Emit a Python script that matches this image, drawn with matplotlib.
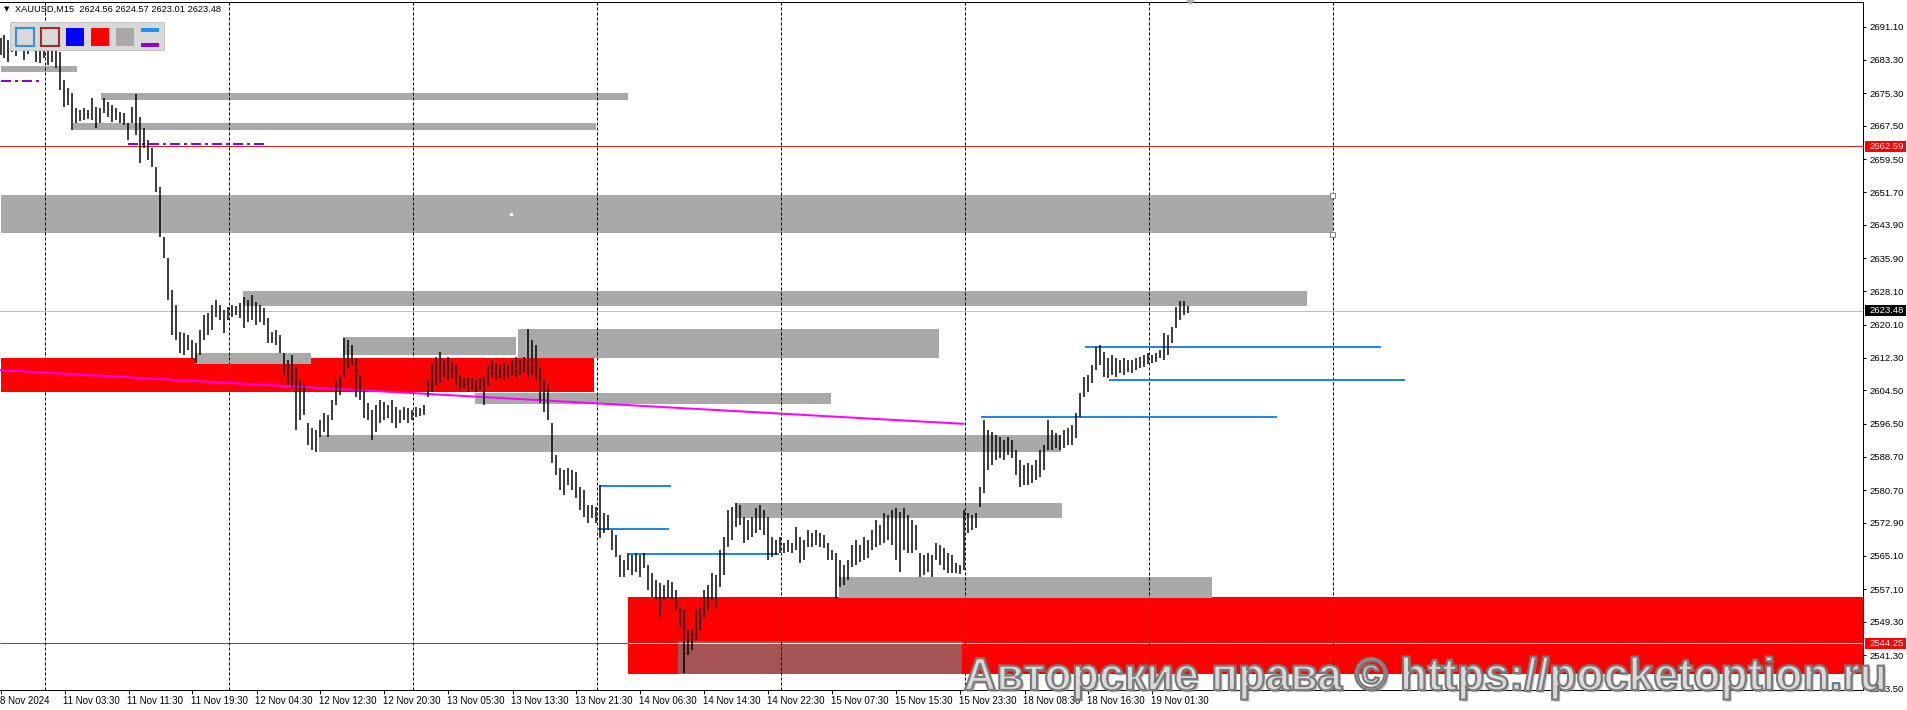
import matplotlib
matplotlib.use("Agg")
import matplotlib.pyplot as plt
import matplotlib.transforms as mtransforms
from matplotlib.patches import Rectangle, Polygon, PathPatch
from matplotlib.textpath import TextPath
from matplotlib.font_manager import FontProperties
import numpy as np

plt.rcParams['font.family'] = ['Liberation Sans', 'DejaVu Sans']

W, H, DPI = 1908, 710, 100

# XAUUSD M15 chart, prices read as 30-minute bars (bar 0 = left edge, 8 Nov 2024)
highs = [2688.4, 2689.1, 2688.0, 2688.9, 2688.6, 2689.6, 2688.0, 2688.4, 2689.1, 2687.0,
         2686.1, 2686.8, 2686.3, 2687.3, 2685.6, 2685.1, 2678.4, 2676.5, 2675.4, 2671.8,
         2671.3, 2671.8, 2671.3, 2674.2, 2672.0, 2671.8, 2674.2, 2673.2, 2672.5, 2671.8,
         2670.8, 2670.6, 2668.2, 2672.0, 2675.1, 2669.6, 2666.9, 2664.1, 2662.2, 2657.7,
         2652.9, 2641.0, 2636.0, 2628.4, 2624.8, 2618.4, 2618.2, 2617.7, 2616.5, 2615.8,
         2618.9, 2622.4, 2622.9, 2624.8, 2626.0, 2624.8, 2623.6, 2624.3, 2624.8, 2624.6,
         2625.3, 2626.7, 2626.0, 2627.2, 2625.5, 2624.8, 2624.1, 2621.7, 2618.4, 2618.9,
         2617.7, 2613.4, 2611.7, 2612.9, 2610.0, 2606.9, 2605.7, 2596.7, 2595.5, 2595.0,
         2597.4, 2599.1, 2598.6, 2602.2, 2606.9, 2608.1, 2617.0, 2616.5, 2615.3, 2612.2,
         2608.1, 2604.6, 2601.5, 2599.8, 2601.0, 2602.2, 2601.7, 2601.0, 2602.2, 2600.5,
         2599.8, 2600.5, 2600.3, 2599.8, 2600.5, 2600.3, 2601.0, 2606.9, 2611.0, 2612.4,
         2613.6, 2611.7, 2612.4, 2611.2, 2610.5, 2608.1, 2607.4, 2607.6, 2607.4, 2606.9,
         2607.4, 2607.6, 2610.5, 2611.7, 2611.0, 2610.5, 2611.0, 2610.5, 2611.7, 2612.4,
         2611.7, 2612.4, 2619.1, 2616.5, 2615.3, 2610.0, 2606.9, 2605.7, 2596.7, 2589.1,
         2586.0, 2585.5, 2586.0, 2585.5, 2585.0, 2581.4, 2580.7, 2577.1, 2577.1, 2576.6,
         2581.9, 2575.3, 2574.8, 2571.2, 2570.0, 2565.2, 2564.0, 2565.7, 2565.2, 2565.7,
         2565.2, 2565.7, 2562.8, 2561.0, 2559.3, 2558.6, 2558.1, 2559.3, 2558.8, 2556.9,
         2552.8, 2552.1, 2547.4, 2547.4, 2552.1, 2552.8, 2556.9, 2558.1, 2561.0, 2560.5,
         2566.4, 2569.5, 2576.0, 2576.6, 2577.6, 2577.1, 2574.3, 2573.6, 2574.3, 2576.4,
         2577.1, 2576.0, 2574.3, 2569.5, 2568.8, 2569.5, 2568.1, 2568.8, 2568.1, 2571.9,
         2569.5, 2568.8, 2571.2, 2570.5, 2571.2, 2570.5, 2570.0, 2568.1, 2566.4, 2565.7,
         2564.0, 2562.8, 2564.0, 2567.6, 2568.8, 2567.6, 2569.5, 2568.8, 2571.2, 2573.6,
         2572.4, 2575.3, 2574.8, 2576.0, 2576.4, 2575.5, 2576.4, 2574.8, 2573.6, 2572.4,
         2565.7, 2565.2, 2565.7, 2565.2, 2568.1, 2567.6, 2566.9, 2565.7, 2565.2, 2563.3,
         2562.8, 2576.0, 2575.3, 2574.8, 2575.3, 2581.4, 2597.4, 2595.0, 2594.5, 2593.8,
         2593.3, 2592.6, 2593.3, 2592.6, 2590.3, 2587.9, 2586.7, 2587.2, 2586.7, 2587.9,
         2590.3, 2591.4, 2597.4, 2595.0, 2594.3, 2593.8, 2595.0, 2595.5, 2596.2, 2599.1,
         2603.9, 2607.6, 2608.1, 2610.5, 2614.8, 2615.3, 2613.6, 2612.2, 2612.9, 2612.2,
         2611.7, 2612.2, 2611.7, 2611.7, 2612.2, 2612.4, 2612.9, 2613.4, 2612.9, 2613.4,
         2614.1, 2618.2, 2617.7, 2619.6, 2624.3, 2625.8, 2625.8, 2624.57]
lows = [2684.4, 2683.7, 2682.7, 2685.1, 2684.2, 2685.6, 2683.2, 2684.6, 2685.6, 2682.7,
        2682.5, 2683.7, 2682.0, 2682.7, 2681.3, 2676.1, 2672.0, 2672.5, 2666.5, 2668.2,
        2668.7, 2668.9, 2669.2, 2668.9, 2666.9, 2668.2, 2670.6, 2669.6, 2668.4, 2668.9,
        2668.2, 2667.7, 2664.1, 2668.2, 2665.3, 2658.7, 2662.2, 2659.4, 2657.7, 2651.7,
        2641.0, 2636.0, 2626.0, 2617.7, 2616.5, 2613.4, 2612.9, 2614.1, 2611.9, 2611.0,
        2612.9, 2616.5, 2617.7, 2618.9, 2621.9, 2621.2, 2618.2, 2621.2, 2621.9, 2622.4,
        2621.7, 2619.3, 2620.7, 2621.2, 2620.0, 2620.7, 2620.0, 2615.8, 2615.8, 2615.3,
        2613.4, 2608.1, 2605.7, 2605.2, 2595.0, 2597.4, 2598.6, 2591.4, 2590.3, 2589.8,
        2593.3, 2594.5, 2593.3, 2597.4, 2601.0, 2603.4, 2607.6, 2609.8, 2610.5, 2602.9,
        2602.2, 2597.9, 2597.4, 2592.6, 2594.5, 2596.7, 2597.4, 2597.9, 2596.7, 2595.5,
        2596.7, 2597.4, 2596.7, 2597.4, 2598.1, 2598.4, 2598.6, 2602.9, 2604.1, 2605.7,
        2606.2, 2607.4, 2606.9, 2607.4, 2605.7, 2604.6, 2605.0, 2604.1, 2604.6, 2604.1,
        2604.6, 2601.0, 2605.7, 2607.4, 2606.9, 2607.4, 2606.9, 2607.4, 2608.1, 2607.6,
        2608.1, 2608.8, 2607.6, 2608.1, 2606.9, 2601.5, 2599.3, 2597.4, 2587.2, 2584.3,
        2580.7, 2579.5, 2581.9, 2580.7, 2578.8, 2576.0, 2574.3, 2572.9, 2574.1, 2572.9,
        2569.3, 2570.5, 2571.2, 2566.4, 2564.7, 2560.0, 2560.0, 2561.7, 2560.5, 2561.2,
        2560.0, 2562.2, 2556.9, 2555.2, 2554.5, 2550.5, 2554.5, 2555.0, 2554.5, 2552.1,
        2548.1, 2537.1, 2541.4, 2542.6, 2545.0, 2547.4, 2550.5, 2552.1, 2554.5, 2552.8,
        2557.6, 2560.5, 2567.1, 2568.8, 2571.9, 2572.4, 2568.1, 2568.8, 2569.5, 2570.5,
        2571.2, 2570.0, 2564.0, 2564.7, 2565.2, 2565.7, 2565.7, 2565.9, 2565.7, 2566.4,
        2563.3, 2564.0, 2567.1, 2567.1, 2567.6, 2567.1, 2566.9, 2564.0, 2564.0, 2554.5,
        2557.6, 2558.1, 2559.3, 2562.4, 2562.8, 2563.5, 2564.0, 2564.5, 2566.4, 2567.1,
        2567.6, 2568.1, 2568.8, 2567.6, 2564.0, 2561.2, 2566.4, 2565.7, 2565.7, 2566.4,
        2560.0, 2560.5, 2561.2, 2560.0, 2564.0, 2562.8, 2561.7, 2561.0, 2561.0, 2561.0,
        2560.7, 2561.7, 2570.5, 2571.2, 2571.6, 2576.6, 2580.0, 2585.5, 2586.7, 2587.9,
        2588.4, 2587.9, 2589.1, 2588.4, 2584.3, 2581.4, 2581.9, 2581.9, 2582.4, 2583.1,
        2583.8, 2585.5, 2590.3, 2590.3, 2590.7, 2590.3, 2590.7, 2591.4, 2591.4, 2593.1,
        2598.1, 2602.9, 2604.1, 2606.2, 2609.3, 2610.5, 2607.6, 2607.4, 2608.1, 2607.6,
        2608.6, 2608.1, 2608.8, 2608.6, 2609.3, 2609.8, 2610.0, 2610.7, 2611.0, 2611.2,
        2612.2, 2611.7, 2612.9, 2615.8, 2619.3, 2621.2, 2622.4, 2623.01]

# bottom time scale, one label every 16 bars
time_labels = ["8 Nov 2024", "11 Nov 03:30", "11 Nov 11:30", "11 Nov 19:30", "12 Nov 04:30",
               "12 Nov 12:30", "12 Nov 20:30", "13 Nov 05:30", "13 Nov 13:30", "13 Nov 21:30",
               "14 Nov 06:30", "14 Nov 14:30", "14 Nov 22:30", "15 Nov 07:30", "15 Nov 15:30",
               "15 Nov 23:30", "18 Nov 08:30", "18 Nov 16:30", "19 Nov 01:30"]
price_ticks = [2691.10, 2683.30, 2675.30, 2667.50, 2659.50, 2651.70, 2643.90, 2635.90,
               2628.10, 2620.10, 2612.30, 2604.50, 2596.50, 2588.70, 2580.70, 2572.90,
               2565.10, 2557.10, 2549.30, 2541.30, 2533.50]

# zones: start bar, end bar, top price, bottom price
gray_x0 = [0, 25.25, 18.25, 0, 60.75, 129.5, 85.75, 48.75, 118.75, 79.75, 184, 209.75]
gray_x1 = [19.25, 157, 149, 333.25, 326.75, 234.75, 129, 77.75, 207.75, 265.25, 265.5, 303]
gray_top = [2681.8, 2675.3, 2668.2, 2651.0, 2628.2, 2619.1, 2617.2, 2613.4, 2603.9, 2593.8, 2577.6, 2560.0]
gray_bot = [2680.3, 2673.7, 2666.5, 2642.0, 2624.6, 2612.2, 2612.9, 2610.7, 2601.2, 2589.8, 2574.1, 2555.0]

red_x0 = [0, 157]
red_x1 = [148.5, 466]
red_top = [2612.2, 2555.2]
red_bot = [2604.1, 2536.9]

mix_x0, mix_x1, mix_top, mix_bot = 169.5, 240.5, 2544.7, 2536.9

trend_x = [0, 240.75]
trend_y = [2609.3, 2596.5]

purple_x0 = [0, 32]
purple_x1 = [10.5, 66.75]
purple_y = [2678.2, 2663.2]

blue_x0 = [149.75, 149.25, 157.25, 245.25, 271.25, 277.25]
blue_x1 = [167.75, 167.25, 194.75, 319.25, 345.25, 351.25]
blue_y = [2581.7, 2571.4, 2565.5, 2598.1, 2614.8, 2606.9]

level_hi = 2662.59
level_lo = 2544.25
bid = 2623.48

grid_x = [11.25 + 46 * k for k in range(8)]

watermark = "Авторские права © https://pocketoption.ru"

# ---------------------------------------------------------------- figure
fig = plt.figure(figsize=(W / DPI, H / DPI), dpi=DPI)
fig.patch.set_facecolor('white')
ax = fig.add_axes([0, 20 / H, 1863 / W, 688.5 / H])
ax.set_xlim(-0.125, -0.125 + 1863 / 4)
ax.set_ylim(2533.07, 2697.14)

# pixel transform for the terminal decorations (x right, y down)
pxt = mtransforms.Affine2D().scale(1 / W, -1 / H).translate(0, 1) + fig.transFigure

for x0, x1, t, b in zip(red_x0, red_x1, red_top, red_bot):
    ax.add_patch(Rectangle((x0, b), x1 - x0, t - b, fc='#FF0000', ec='none', lw=0,
                           antialiased=False, zorder=1))
for x0, x1, t, b in zip(gray_x0, gray_x1, gray_top, gray_bot):
    ax.add_patch(Rectangle((x0, b), x1 - x0, t - b, fc='#A9A9A9', ec='none', lw=0,
                           antialiased=False, zorder=1.2))
ax.add_patch(Rectangle((mix_x0, mix_bot), mix_x1 - mix_x0, mix_top - mix_bot, fc='#A65353',
                       ec='none', lw=0, antialiased=False, zorder=1.3))

ax.axhline(level_hi, color='#D42020', lw=0.72, zorder=2)
ax.axhline(bid, color='#C0C0C0', lw=0.72, zorder=2)
ax.hlines(level_lo, -0.125, red_x0[1], color='#D42020', lw=0.72, zorder=2)
ax.hlines(level_lo, red_x0[1], 466, color='white', lw=0.72, zorder=2)

for g in grid_x:
    ax.axvline(g, color='black', lw=0.72, ls=(0, (3, 2)), zorder=2.5)

ax.plot(trend_x, trend_y, color='#FF00FF', lw=1.44, zorder=4)
ax.hlines(purple_y, purple_x0, purple_x1, color='#9400D3', lw=1.44,
          linestyles=[(0, (5, 2, 1.5, 2))], zorder=4)
ax.hlines(blue_y, blue_x0, blue_x1, color='#1E88E5', lw=1.44, zorder=4)

idx = np.arange(len(highs))
ax.vlines(idx, lows, highs, colors='black', lw=1.08, zorder=5)

# axes frame and scales
ax.spines['left'].set_visible(False)
for s in ['top', 'right', 'bottom']:
    ax.spines[s].set_linewidth(0.72)
    ax.spines[s].set_color('black')
ax.yaxis.tick_right()
ax.set_yticks(price_ticks)
ax.set_yticklabels([f"{p:.2f}" for p in price_ticks])
ax.tick_params(axis='y', direction='out', length=2.2, width=0.72, pad=2.2, labelsize=6.8)
ax.set_xticks(np.arange(len(time_labels)) * 16)
ax.set_xticklabels(time_labels)
ax.tick_params(axis='x', direction='out', length=2.9, width=0.72, pad=1.5, labelsize=7)
offset = mtransforms.ScaledTranslation(-1 / DPI, 0, fig.dpi_scale_trans)
for lab in ax.get_xticklabels():
    lab.set_horizontalalignment('left')
    lab.set_transform(lab.get_transform() + offset)

# price markers on the right scale
bx = mtransforms.blended_transform_factory(pxt, ax.transData)
for price, col in [(level_hi, '#FF0000'), (bid, 'black'), (level_lo, '#FF0000')]:
    ax.add_patch(Rectangle((1865, price - 1.3), 41, 2.6, transform=bx, fc=col, ec='none',
                           clip_on=False, zorder=6))
    ax.text(1869, price, f"{price:.2f}", transform=bx, color='white', fontsize=6.8,
            va='center', ha='left', clip_on=False, zorder=7)

# header
fig.text(4, 9, "\u25BC", transform=pxt, fontsize=5, family='DejaVu Sans', va='center')
fig.text(15, 9, "XAUUSD,M15  2624.56 2624.57 2623.01 2623.48", transform=pxt,
         fontsize=6.7, va='center')

# object toolbar
fig.add_artist(Rectangle((10, 22), 154, 28, transform=pxt, fc='#D9D9D9', ec='#C4C4C4',
                         lw=0.7, zorder=4.5))
fig.add_artist(Rectangle((16, 28), 18, 18, transform=pxt, fc='#D9D9D9', ec='#3A8FD8',
                         lw=1.5, zorder=4.6))
fig.add_artist(Rectangle((41, 28), 18, 18, transform=pxt, fc='#D9D9D9', ec='#A52A2A',
                         lw=1.5, zorder=4.6))
for x0, c in [(66, '#0000FF'), (91, '#FF0000'), (116, '#A9A9A9')]:
    fig.add_artist(Rectangle((x0, 28), 18, 18, transform=pxt, fc=c, ec='none', zorder=4.6))
fig.add_artist(Rectangle((141, 28), 18, 4, transform=pxt, fc='#1E90FF', ec='none', zorder=4.6))
fig.add_artist(Rectangle((141, 43), 18, 4, transform=pxt, fc='#9400D3', ec='none', zorder=4.6))

# chart shift marker, selection handles, anchor dot
fig.add_artist(Polygon([(1186, 0), (1195, 0), (1190.5, 5)], transform=pxt, fc='#B0B0B0',
                       ec='none', zorder=6))
for hy in (195, 234):
    fig.add_artist(Rectangle((1330, hy - 2.5), 5, 5, transform=pxt, fc='white', ec='#808080',
                             lw=0.7, zorder=6))
fig.add_artist(Rectangle((510, 213), 3, 3, transform=pxt, fc='white', ec='none', zorder=6))

# watermark, stretched to the size it has on the screenshot
tp = TextPath((0, 0), watermark, size=100,
              prop=FontProperties(family='Liberation Sans', weight='bold'))
ext = tp.get_extents()
sx = 919 / ext.width
sy = 33 / 71.6
wm_tr = mtransforms.Affine2D().translate(-ext.x0, 0).scale(sx, -sy).translate(965, 690)
fig.add_artist(PathPatch(tp, transform=wm_tr + mtransforms.Affine2D().translate(2, 2) + pxt,
                         fc='#8C8C8C', ec='none', alpha=0.55, zorder=9.9))
fig.add_artist(PathPatch(tp, transform=wm_tr + pxt, fc='#DADADA', ec='#7A7A7A', lw=1.6,
                         zorder=10))

fig.savefig("out.png", dpi=DPI)
